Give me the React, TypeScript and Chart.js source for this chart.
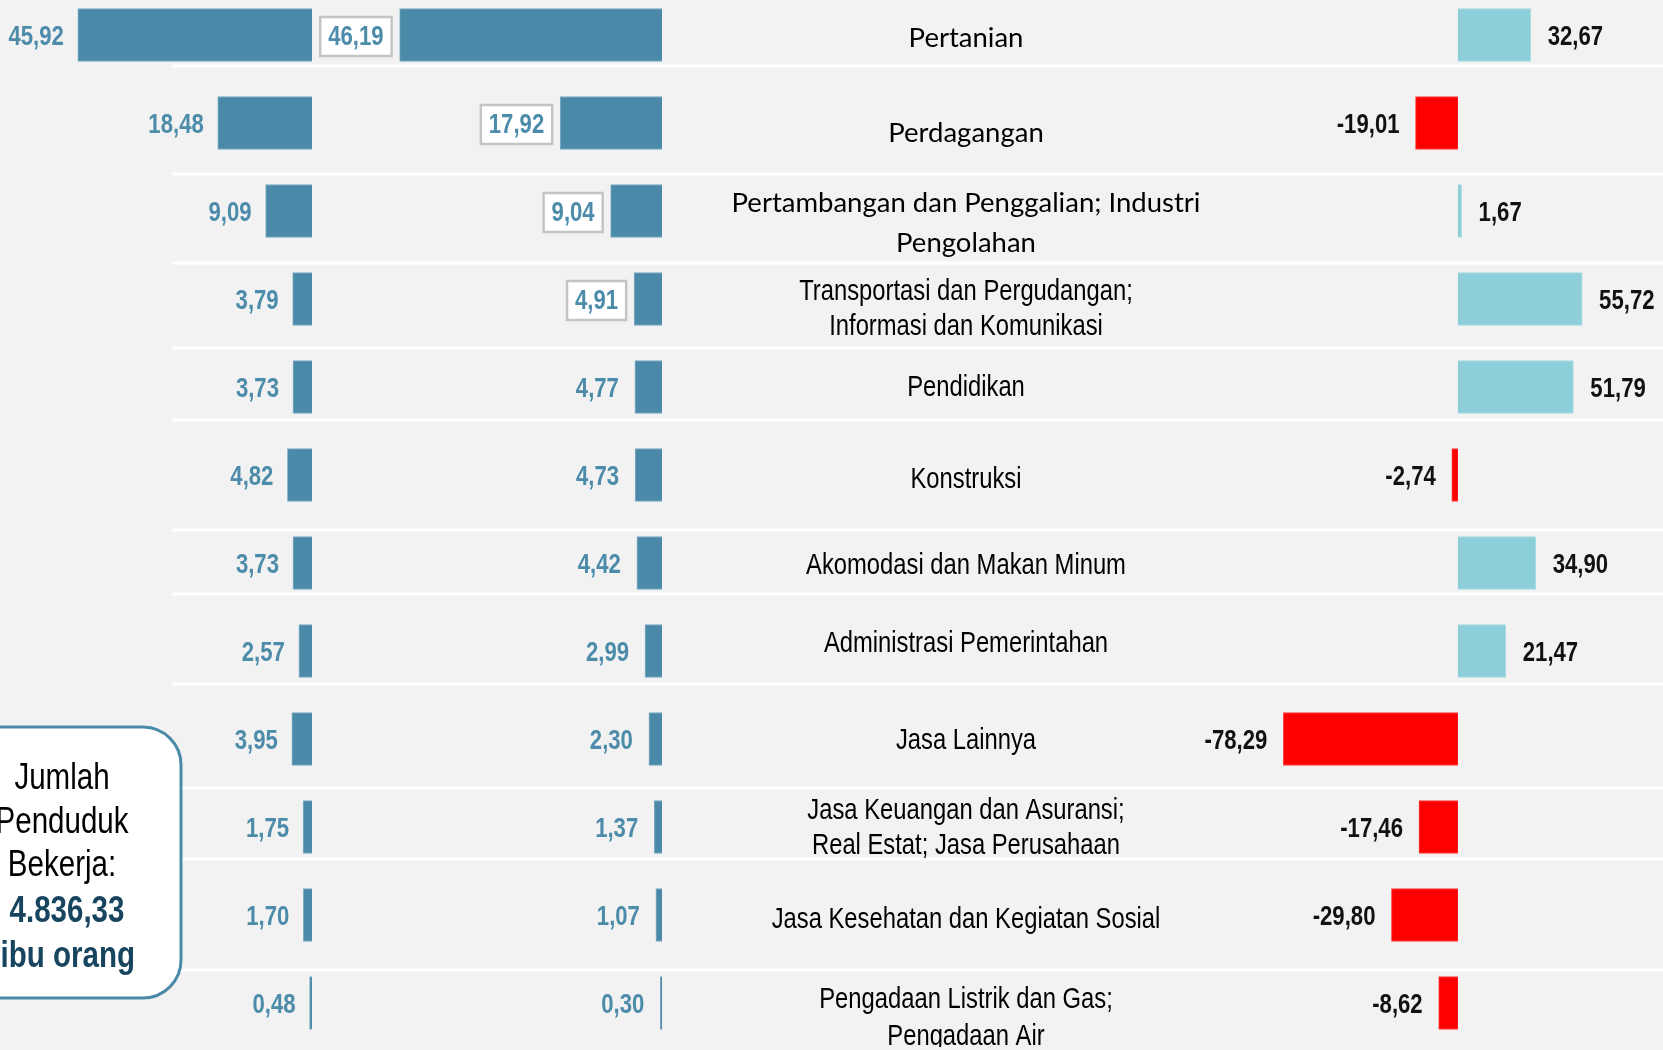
import React, { useEffect, useRef } from "react";
import { Chart, registerables } from "chart.js";

Chart.register(...registerables);

// ---------------- data ----------------
const CATEGORIES: string[][] = [
  ["Pertanian"],
  ["Perdagangan"],
  ["Pertambangan dan Penggalian; Industri", "Pengolahan"],
  ["Transportasi dan Pergudangan;", "Informasi dan Komunikasi"],
  ["Pendidikan"],
  ["Konstruksi"],
  ["Akomodasi dan Makan Minum"],
  ["Administrasi Pemerintahan"],
  ["Jasa Lainnya"],
  ["Jasa Keuangan dan Asuransi;", "Real Estat; Jasa Perusahaan"],
  ["Jasa Kesehatan dan Kegiatan Sosial"],
  ["Pengadaan Listrik dan Gas;", "Pengadaan Air"],
];

const SHARE_PREV = [45.92, 18.48, 9.09, 3.79, 3.73, 4.82, 3.73, 2.57, 3.95, 1.75, 1.7, 0.48];
const SHARE_CURR = [46.19, 17.92, 9.04, 4.91, 4.77, 4.73, 4.42, 2.99, 2.3, 1.37, 1.07, 0.3];
const CHANGE = [32.67, -19.01, 1.67, 55.72, 51.79, -2.74, 34.9, 21.47, -78.29, -17.46, -29.8, -8.62];

const BOXED_CURR = [true, true, true, true, false, false, false, false, false, false, false, false];

const SUMMARY_LINES = ["Jumlah", "Penduduk", "Bekerja:", "4.836,33", "ribu orang"];

// ---------------- styling / layout ----------------
const W = 1663;
const CANVAS_TOP = -9;
const CANVAS_H = 1056;

const BLUE = "#4A89A8";
const BLUE_TEXT = "#4C8BAA";
const CYAN = "#8DCFD8";
const RED = "#FF0000";
const BG = "#F2F2F2";

const SANS = "'Liberation Sans', Arial, sans-serif";
const NARROW_X = 0.82; // horizontal squeeze to imitate a narrow face
const WIDE = "Lato, 'Open Sans', sans-serif";

const WIDE_FONT_ROWS = [true, true, true, false, false, false, false, false, false, false, false, false];
const LABEL_NUDGE = [3, 10, 12, 10, 1, 5, 3, -7, 2, 1, 5, 15];
const LABEL_LH = [40, 40, 40, 35, 35, 35, 35, 35, 35, 35, 35, 37];
const SEPARATOR_Y = [66, 174, 263, 348, 420, 530, 594, 684, 788, 859, 970];
const VALUE_DY = 3;

const fmt = (v: number) => v.toFixed(2).replace(".", ",");

function narrowText(
  ctx: CanvasRenderingContext2D,
  text: string,
  x: number,
  y: number,
  font: string,
  align: CanvasTextAlign,
  sx = NARROW_X
) {
  ctx.save();
  ctx.font = font;
  ctx.textAlign = align;
  ctx.translate(x, y);
  ctx.scale(sx, 1);
  ctx.fillText(text, 0, 0);
  ctx.restore();
}

function narrowWidth(ctx: CanvasRenderingContext2D, text: string, font: string, sx = NARROW_X) {
  ctx.save();
  ctx.font = font;
  const w = ctx.measureText(text).width * sx;
  ctx.restore();
  return w;
}

const overlayPlugin = {
  id: "overlay",
  beforeDatasetsDraw(chart: any) {
    const ctx = chart.ctx;
    ctx.save();
    ctx.fillStyle = "#FFFFFF";
    SEPARATOR_Y.forEach((py) => {
      ctx.fillRect(172, py - CANVAS_TOP - 1.5, W - 172, 3);
    });
    ctx.restore();
  },
  afterDatasetsDraw(chart: any) {
    const ctx: CanvasRenderingContext2D = chart.ctx;
    ctx.save();
    ctx.textBaseline = "middle";
    const valFont = `bold 27px ${SANS}`;

    // previous-share labels
    const m0 = chart.getDatasetMeta(0);
    ctx.fillStyle = BLUE_TEXT;
    m0.data.forEach((el: any, i: number) => {
      const left = Math.min(el.x, el.base);
      narrowText(ctx, fmt(SHARE_PREV[i]), left - 14, el.y + VALUE_DY, valFont, "right");
    });

    // current-share labels
    const m1 = chart.getDatasetMeta(1);
    m1.data.forEach((el: any, i: number) => {
      const left = Math.min(el.x, el.base);
      const tx = left - 16;
      const txt = fmt(SHARE_CURR[i]);
      if (BOXED_CURR[i]) {
        const tw = narrowWidth(ctx, txt, valFont);
        ctx.fillStyle = "#FFFFFF";
        ctx.strokeStyle = "#C4C4C4";
        ctx.lineWidth = 2.5;
        ctx.fillRect(tx - tw - 8, el.y - 18, tw + 16, 39);
        ctx.strokeRect(tx - tw - 8, el.y - 18, tw + 16, 39);
      }
      ctx.fillStyle = BLUE_TEXT;
      narrowText(ctx, txt, tx, el.y + VALUE_DY, valFont, "right");
    });

    // change labels
    const m2 = chart.getDatasetMeta(2);
    const boldVal = `bold 27px ${SANS}`;
    ctx.fillStyle = "#111111";
    m2.data.forEach((el: any, i: number) => {
      const v = CHANGE[i];
      if (v >= 0) {
        narrowText(ctx, fmt(v), Math.max(el.x, el.base) + 17, el.y + VALUE_DY, boldVal, "left");
      } else {
        narrowText(ctx, fmt(v), Math.min(el.x, el.base) - 16, el.y + VALUE_DY, boldVal, "right");
      }
    });

    // category labels
    ctx.fillStyle = "#000000";
    CATEGORIES.forEach((lines, i) => {
      const wide = WIDE_FONT_ROWS[i];
      const lh = LABEL_LH[i];
      const cy = m0.data[i].y + LABEL_NUDGE[i];
      const y0 = cy - ((lines.length - 1) * lh) / 2;
      lines.forEach((ln, k) => {
        if (wide) {
          narrowText(ctx, ln, 966, y0 + k * lh, `27.5px ${WIDE}`, "center", 1);
        } else {
          narrowText(ctx, ln, 966, y0 + k * lh, `29px ${SANS}`, "center");
        }
      });
    });

    // summary box
    const bx = -40, by = 727 - CANVAS_TOP, bw = 221, bh = 271, r = 38;
    ctx.beginPath();
    ctx.moveTo(bx + r, by);
    ctx.lineTo(bx + bw - r, by);
    ctx.arcTo(bx + bw, by, bx + bw, by + r, r);
    ctx.lineTo(bx + bw, by + bh - r);
    ctx.arcTo(bx + bw, by + bh, bx + bw - r, by + bh, r);
    ctx.lineTo(bx + r, by + bh);
    ctx.arcTo(bx, by + bh, bx, by + bh - r, r);
    ctx.lineTo(bx, by + r);
    ctx.arcTo(bx, by, bx + r, by, r);
    ctx.closePath();
    ctx.fillStyle = "#FFFFFF";
    ctx.fill();
    ctx.strokeStyle = BLUE;
    ctx.lineWidth = 3;
    ctx.stroke();

    ctx.textBaseline = "alphabetic";
    const baselines = [789, 833, 876, 922, 967];
    SUMMARY_LINES.forEach((ln, k) => {
      const bold = k >= 3;
      ctx.fillStyle = bold ? "#17455F" : "#000000";
      narrowText(ctx, ln, k === 3 ? 67 : 62, baselines[k] - CANVAS_TOP, `${bold ? "bold " : ""}36px ${SANS}`, "center");
    });

    ctx.restore();
  },
};

export default function App() {
  const ref = useRef<HTMLCanvasElement | null>(null);

  useEffect(() => {
    if (!ref.current) return;
    document.body.style.margin = "0";
    const labels = CATEGORIES.map((c) => c.join(" "));
    const chart = new Chart(ref.current, {
      type: "bar",
      data: {
        labels,
        datasets: [
          {
            data: SHARE_PREV,
            xAxisID: "xL",
            yAxisID: "y",
            backgroundColor: BLUE,
            borderColor: "#7FADC4",
            borderWidth: 1,
            grouped: false,
            barThickness: 53,
          } as any,
          {
            data: SHARE_CURR,
            xAxisID: "xM",
            yAxisID: "y",
            backgroundColor: BLUE,
            borderColor: "#7FADC4",
            borderWidth: 1,
            grouped: false,
            barThickness: 53,
          } as any,
          {
            data: CHANGE,
            xAxisID: "xR",
            yAxisID: "y",
            backgroundColor: CHANGE.map((v) => (v >= 0 ? CYAN : RED)),
            borderColor: CHANGE.map((v) => (v >= 0 ? "#A9DCE3" : "#FF4040")),
            borderWidth: 1,
            grouped: false,
            barThickness: 53,
          } as any,
        ],
      },
      options: {
        indexAxis: "y",
        responsive: false,
        animation: false,
        devicePixelRatio: 1,
        layout: { padding: 0 },
        plugins: { legend: { display: false }, tooltip: { enabled: false } },
        scales: {
          y: { type: "category", offset: true, display: false, grid: { display: false } },
          xL: {
            type: "linear",
            position: "bottom",
            stack: "cols",
            stackWeight: 312,
            min: 0,
            max: 312 / 5.1,
            reverse: true,
            display: false,
          },
          xM: {
            type: "linear",
            position: "bottom",
            stack: "cols",
            stackWeight: 350,
            min: 0,
            max: 350 / 5.68,
            reverse: true,
            display: false,
          },
          xR: {
            type: "linear",
            position: "bottom",
            stack: "cols",
            stackWeight: 1001,
            min: -357,
            max: 92,
            display: false,
          },
        } as any,
      },
      plugins: [overlayPlugin],
    });
    return () => chart.destroy();
  }, []);

  return (
    <div style={{ position: "fixed", left: 0, top: 0, width: W, height: 1050, background: BG, overflow: "hidden" }}>
      <canvas
        ref={ref}
        width={W}
        height={CANVAS_H}
        style={{ position: "absolute", left: 0, top: CANVAS_TOP, width: W, height: CANVAS_H, display: "block" }}
      />
    </div>
  );
}
